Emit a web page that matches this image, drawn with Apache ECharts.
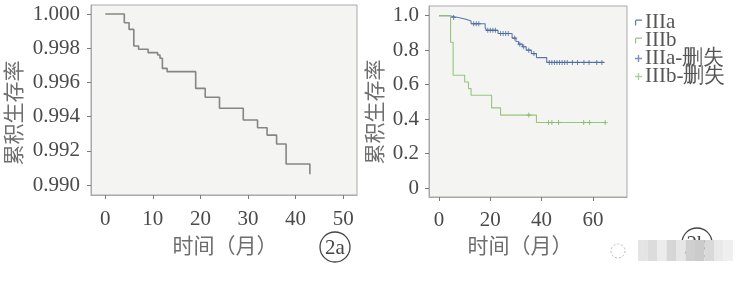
<!DOCTYPE html>
<html><head><meta charset="utf-8">
<script src="https://cdn.jsdelivr.net/npm/echarts@6/dist/echarts.min.js"></script>
<style>html,body{margin:0;padding:0;background:#fff}#c{width:751px;height:285px}</style>
</head><body><div id="c"></div>
<script>
// ---- Data ----
// Figure 2a: cumulative survival (overall), step curve [month, survival]
const curveA_t = [0, 4, 5, 6, 7, 9, 11, 11.5, 12, 13, 19, 21, 24, 29, 32, 34, 36, 38, 43];
const curveA_v = [1.0, 0.99949, 0.9991, 0.99813, 0.99794, 0.99774, 0.9976, 0.99741, 0.99682, 0.99663,
                  0.99565, 0.99513, 0.99449, 0.9938, 0.99335, 0.99292, 0.9924, 0.99123, 0.99064];
const leftXTicks = [0, 10, 20, 30, 40, 50];
const leftYTicks = [0.990, 0.992, 0.994, 0.996, 0.998, 1.000];

// Figure 2b: IIIa / IIIb
const IIIa_t = [0, 4, 7.5, 10.5, 12.5, 18, 18.5, 23, 28.5, 30, 31, 32.5, 34, 36, 38, 42, 64.5];
const IIIa_v = [1.0, 0.99, 0.98, 0.969, 0.953, 0.93, 0.915, 0.897, 0.87, 0.85, 0.835, 0.82, 0.80, 0.78, 0.757, 0.729, 0.729];
const IIIb_t = [0, 4.5, 5.5, 10, 11.5, 12.5, 20.5, 24, 38, 65];
const IIIb_v = [1.0, 0.846, 0.654, 0.615, 0.577, 0.538, 0.465, 0.423, 0.38, 0.38];
const IIIa_censor = [5.7, 13.5, 14.5, 15.5, 19, 20, 21, 22, 24, 25, 26, 27, 29.5, 31.5, 33, 35, 37,
                     43, 44, 45, 46, 47, 48, 49, 50, 52, 54, 56.5, 58.5, 61.5, 63.5];
const IIIb_censor = [35, 42.7, 44, 46.6, 56.4, 58.7, 64.8];
const rightXTicks = [0, 20, 40, 60];
const rightYTicks = [0, 0.2, 0.4, 0.6, 0.8, 1.0];

const seriesNames = ['IIIa', 'IIIb', 'IIIa-删失', 'IIIb-删失'];
const yTitle = '累积生存率';
const xTitle = '时间（月）';

// ---- helpers ----
const pairs = (t, v) => t.map((x, i) => [x, v[i]]);
function survAt(t, v, x) { let s = v[0]; for (let i = 0; i < t.length; i++) { if (t[i] <= x) s = v[i]; } return s; }

const SERIF = 'Liberation Serif';
const CJK = 'Noto Sans CJK SC';
const BLUE = '#5b79ad', GREEN = '#97c47f', GRAY = '#858585';
const plusPath = 'path://M2,0 L3,0 L3,2 L5,2 L5,3 L3,3 L3,5 L2,5 L2,3 L0,3 L0,2 L2,2 Z';
const stepIcon = 'path://M0,6 L0,1.5 Q0,0 1.5,0 L7,0 L7,1.2 L1.6,1.2 Q1.2,1.2 1.2,1.6 L1.2,6 Z';

const axisCommon = (ticks, fmt, margin) => ({
  type: 'value',
  axisLine: { show: true, onZero: false, lineStyle: { color: '#a9a9a9', width: 1 } },
  splitLine: { show: false },
  axisTick: { show: true, customValues: ticks, length: 4, lineStyle: { color: '#7a7a7a', width: 1 } },
  axisLabel: { customValues: ticks, formatter: fmt, fontFamily: SERIF, fontSize: 21, color: '#4a4a4a', margin: margin }
});

const chart = echarts.init(document.getElementById('c'), null, { renderer: 'canvas' });

// mosaic watermark blocks (decoration)
const mosaicGray = ['#e4e4e4','#dcdcdc','#ececec','#d6d6d6','#e6e6e6','#cfcfcf','#cbcbcb','#d9d9d9','#e9e9e9','#efefef'];
const mosaic = mosaicGray.map((c, i) => ({
  type: 'rect', shape: { x: 638 + i * 9.5, y: 240, width: 9.5, height: 21 }, style: { fill: c }, z: 10
}));

chart.setOption({
  animation: false,
  backgroundColor: '#ffffff',
  grid: [
    { left: 91, top: 5, width: 266, height: 190, show: true, backgroundColor: '#f4f4f2', borderColor: '#a9a9a9', borderWidth: 1 },
    { left: 429, top: 6, width: 198, height: 191, show: true, backgroundColor: '#f4f4f2', borderColor: '#a9a9a9', borderWidth: 1 }
  ],
  xAxis: [
    Object.assign(axisCommon(leftXTicks, v => String(v), 14), { gridIndex: 0, min: -3.0, max: 52.9 }),
    Object.assign(axisCommon(rightXTicks, v => String(v), 13), { gridIndex: 1, min: -3.91, max: 73.3 })
  ],
  yAxis: [
    Object.assign(axisCommon(leftYTicks, v => v.toFixed(3), 11), { gridIndex: 0, min: 0.98942, max: 1.000526 }),
    Object.assign(axisCommon(rightYTicks, v => (v === 0 ? '0' : v.toFixed(1)), 10), { gridIndex: 1, min: -0.0523, max: 1.0564 })
  ],
  legend: {
    left: 630, top: 7, orient: 'vertical', itemWidth: 7, itemHeight: 7, itemGap: -3,
    textStyle: { fontFamily: SERIF, fontSize: 21, color: '#555', padding: [0, 0, 0, -2] },
    data: [
      { name: seriesNames[0], icon: stepIcon, itemStyle: { color: BLUE } },
      { name: seriesNames[1], icon: stepIcon, itemStyle: { color: GREEN } },
      { name: seriesNames[2], icon: plusPath, itemStyle: { color: BLUE } },
      { name: seriesNames[3], icon: plusPath, itemStyle: { color: GREEN } }
    ]
  },
  series: [
    { type: 'line', xAxisIndex: 0, yAxisIndex: 0, step: 'end', showSymbol: false, symbol: 'none',
      data: pairs(curveA_t, curveA_v), lineStyle: { color: GRAY, width: 1.6 } },
    { name: seriesNames[0], type: 'line', xAxisIndex: 1, yAxisIndex: 1, step: 'end', symbol: 'none',
      data: pairs(IIIa_t, IIIa_v), lineStyle: { color: BLUE, width: 1.1 }, itemStyle: { color: BLUE } },
    { name: seriesNames[1], type: 'line', xAxisIndex: 1, yAxisIndex: 1, step: 'end', symbol: 'none',
      data: pairs(IIIb_t, IIIb_v), lineStyle: { color: GREEN, width: 1.1 }, itemStyle: { color: GREEN } },
    { name: seriesNames[2], type: 'scatter', xAxisIndex: 1, yAxisIndex: 1, symbol: plusPath, symbolSize: 5,
      data: IIIa_censor.map(x => [x, survAt(IIIa_t, IIIa_v, x)]), itemStyle: { color: '#4a6a9f' }, z: 3 },
    { name: seriesNames[3], type: 'scatter', xAxisIndex: 1, yAxisIndex: 1, symbol: plusPath, symbolSize: 5,
      data: IIIb_censor.map(x => [x, survAt(IIIb_t, IIIb_v, x)]), itemStyle: { color: '#7fb566' }, z: 3 }
  ],
  graphic: [
    { type: 'text', x: 13, y: 113, rotation: Math.PI / 2,
      style: { text: yTitle, font: '21px "' + CJK + '"', fill: '#6e6e6e', align: 'center', verticalAlign: 'middle' } },
    { type: 'text', x: 374, y: 112, rotation: Math.PI / 2,
      style: { text: yTitle, font: '21px "' + CJK + '"', fill: '#6e6e6e', align: 'center', verticalAlign: 'middle' } },
    { type: 'text', x: 225, y: 245,
      style: { text: xTitle, font: '21px "' + CJK + '"', fill: '#6e6e6e', align: 'center', verticalAlign: 'middle' } },
    { type: 'text', x: 520, y: 245,
      style: { text: xTitle, font: '21px "' + CJK + '"', fill: '#6e6e6e', align: 'center', verticalAlign: 'middle' } },
    { type: 'circle', shape: { cx: 335, cy: 247, r: 15 }, style: { fill: 'none', stroke: '#444', lineWidth: 1.3 } },
    { type: 'text', x: 335, y: 248, style: { text: '2a', font: '21px "' + SERIF + '"', fill: '#444', align: 'center', verticalAlign: 'middle' } },
    { type: 'circle', shape: { cx: 697, cy: 243, r: 15 }, style: { fill: 'none', stroke: '#444', lineWidth: 1.3 }, z: 5 },
    { type: 'text', x: 697, y: 244, style: { text: '2b', font: '21px "' + SERIF + '"', fill: '#444', align: 'center', verticalAlign: 'middle' }, z: 5 },
    { type: 'circle', shape: { cx: 618, cy: 251, r: 7 }, style: { fill: 'none', stroke: '#bbb', lineWidth: 1, lineDash: [2, 2] }, z: 10 }
  ].concat(mosaic)
});
</script></body></html>
